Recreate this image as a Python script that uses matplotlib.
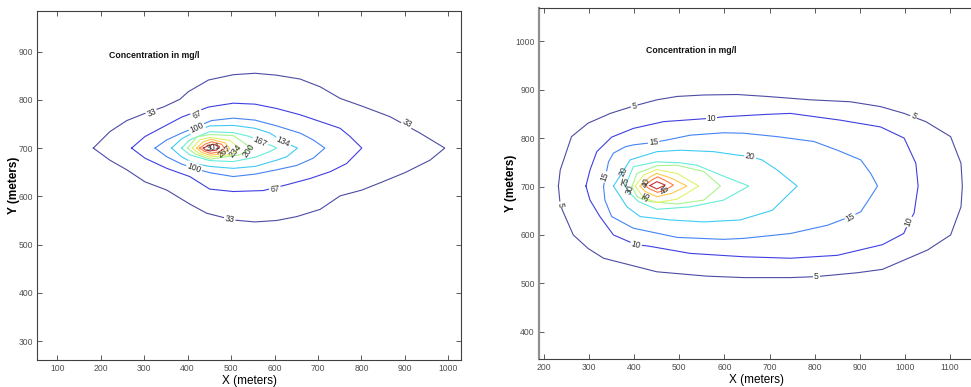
import matplotlib.pyplot as plt

# plume outlines, traced as closed loops of (x, y) in meters
# left plume: levels 33 ... 334 mg/l
L033 = [(183, 700), (221, 734), (260, 757), (302, 772), (344, 785), (382, 801), (402, 817), (448, 841),
        (505, 852), (555, 855), (605, 851), (659, 843), (705, 827), (751, 803), (801, 787), (866, 765),
        (935, 731), (992, 700), (958, 675), (900, 649), (843, 628), (801, 613), (751, 601), (705, 573),
        (651, 558), (605, 550), (555, 547), (505, 551), (444, 565), (405, 584), (352, 613), (302, 630),
        (260, 655), (221, 675)]
L067 = [(271, 700), (302, 724), (344, 744), (386, 764), (448, 785), (505, 793), (555, 791), (605, 782),
        (659, 769), (705, 755), (751, 741), (774, 724), (801, 700), (766, 668), (728, 651), (682, 637),
        (628, 624), (574, 612), (505, 610), (451, 615), (405, 641), (352, 658), (302, 679)]
L100 = [(325, 700), (352, 717), (386, 731), (455, 757), (505, 762), (555, 758), (605, 746), (659, 731),
        (689, 717), (716, 700), (689, 679), (651, 664), (605, 655), (555, 646), (505, 641), (451, 649),
        (415, 658), (386, 667), (352, 682)]
L134 = [(363, 700), (386, 719), (421, 736), (451, 746), (505, 747), (555, 741), (590, 731), (620, 713),
        (653, 700), (628, 682), (605, 675), (555, 662), (505, 658), (451, 662), (415, 668), (386, 682)]
L167 = [(386, 700), (405, 717), (451, 734), (505, 732), (543, 724), (567, 713), (593, 705), (605, 700),
        (590, 693), (555, 681), (505, 672), (451, 674), (405, 686)]
L200 = [(400, 700), (421, 723), (451, 728), (505, 726), (520, 717), (547, 700), (520, 686), (451, 677),
        (417, 688)]
L234 = [(411, 700), (428, 717), (451, 722), (497, 716), (520, 699), (497, 686), (451, 681), (426, 689)]
L267 = [(421, 700), (436, 713), (453, 718), (486, 711), (497, 699), (482, 689), (453, 685), (432, 691)]
L301 = [(428, 700), (440, 708), (455, 713), (478, 708), (486, 699), (471, 692), (453, 689), (437, 694)]
L334 = [(436, 700), (448, 705), (459, 708), (474, 703), (467, 696), (451, 694), (441, 696)]

# right plume: levels 5 ... 50 mg/l
R05 = [(232, 701), (236, 734), (261, 803), (298, 831), (347, 851), (398, 866), (450, 879), (495, 886),
       (554, 889), (628, 890), (694, 886), (791, 879), (879, 875), (946, 865), (998, 851), (1046, 834),
       (1101, 803), (1124, 748), (1127, 701), (1124, 658), (1101, 600), (1050, 569), (950, 529),
       (894, 522), (803, 514), (746, 512), (643, 512), (561, 515), (450, 524), (391, 538), (332, 552),
       (298, 572), (265, 600), (247, 638), (236, 662)]
R10 = [(293, 701), (302, 734), (317, 772), (350, 802), (398, 820), (465, 834), (571, 841), (598, 844),
       (694, 849), (746, 851), (857, 837), (946, 823), (998, 800), (1024, 748), (1029, 701), (1020, 645),
       (1009, 627), (997, 603), (950, 580), (850, 558), (746, 552), (643, 555), (524, 562), (432, 577),
       (404, 580), (354, 600), (324, 638), (302, 672)]
R15 = [(332, 700), (343, 751), (354, 769), (380, 782), (398, 786), (443, 791), (472, 796), (524, 806),
       (598, 811), (643, 810), (717, 803), (798, 793), (850, 775), (902, 755), (924, 727), (939, 701),
       (924, 679), (902, 648), (879, 638), (828, 620), (746, 603), (643, 593), (598, 591), (495, 595),
       (398, 614), (350, 638), (335, 672)]
R20 = [(354, 701), (375, 731), (391, 755), (450, 772), (502, 775), (576, 772), (628, 765), (657, 762),
       (683, 755), (717, 734), (761, 701), (706, 651), (635, 631), (554, 627), (480, 631), (413, 638),
       (384, 658)]
R25 = [(380, 701), (398, 741), (450, 751), (502, 749), (539, 744), (591, 724), (654, 701), (598, 672),
       (524, 658), (450, 653), (409, 669), (391, 686)]
R30 = [(395, 700), (406, 727), (450, 743), (495, 744), (554, 731), (591, 701), (554, 672), (495, 664),
       (435, 669), (406, 679)]
R35 = [(402, 701), (421, 724), (450, 735), (495, 727), (543, 701), (495, 674), (450, 667), (421, 677)]
R40 = [(413, 701), (435, 720), (450, 727), (483, 717), (517, 701), (483, 686), (450, 679), (424, 690)]
R45 = [(424, 702), (438, 713), (452, 720), (470, 712), (487, 703), (469, 693), (452, 688), (434, 695)]
R50 = [(435, 702), (450, 710), (469, 703), (450, 695)]

left_lines = [L033, L067, L100, L134, L167, L200, L234, L267, L301, L334]
right_lines = [R05, R10, R15, R20, R25, R30, R35, R40, R45, R50]

# jet-like colour per level, low to high
level_colors = ['#4c4ca4', '#3f3fe2', '#4484f4', '#40caf4', '#66ecd8',
                '#a8f490', '#e0f268', '#ffc84c', '#ff7c44', '#c83434']

# contour labels: text, x, y, rotation, gap in line
left_labels = [("33", 317, 774, 25, True), ("33", 906, 751, -30, True), ("33", 497, 553, -8, True),
               ("67", 422, 770, 30, True), ("67", 601, 615, 5, True),
               ("100", 421, 742, 25, True), ("100", 415, 658, -20, True),
               ("134", 620, 713, -25, True), ("167", 567, 713, -25, True),
               ("200", 541, 695, 55, False), ("234", 509, 695, 50, False),
               ("267", 484, 693, 40, False), ("301", 459, 702, 10, False)]
right_labels = [("5", 400, 866, 10, True), ("5", 1020, 846, -30, True), ("5", 803, 514, 0, True),
                ("5", 236, 662, -80, True),
                ("10", 571, 841, 0, True), ("10", 404, 580, -15, True), ("10", 1009, 627, 70, True),
                ("15", 443, 791, 5, True), ("15", 335, 720, 70, True), ("15", 879, 637, 30, True),
                ("20", 657, 762, -10, True), ("20", 375, 731, 65, False),
                ("25", 380, 710, 75, False), ("30", 391, 693, 70, False),
                ("35", 428, 680, 60, False), ("40", 426, 708, 70, False), ("45", 469, 693, 40, False)]

NARROW = ['Liberation Sans Narrow', 'Liberation Sans', 'DejaVu Sans']
SANS = ['Liberation Sans', 'DejaVu Sans']

fig = plt.figure(figsize=(9.71, 3.87), dpi=100)
ax1 = fig.add_axes([0.0384, 0.0698, 0.4367, 0.9018])
ax2 = fig.add_axes([0.5551, 0.0724, 0.4490, 0.9062])


def draw_panel(ax, lines, labels, xlim, ylim, xticks, yticks, note_xy):
    for pts, col in zip(lines, level_colors):
        xs = [p[0] for p in pts] + [pts[0][0]]
        ys = [p[1] for p in pts] + [pts[0][1]]
        ax.plot(xs, ys, color=col, lw=0.8, solid_joinstyle='miter')
    for txt, x, y, rot, gap in labels:
        kw = {}
        if gap:
            kw['bbox'] = dict(boxstyle='square,pad=0.12', fc='white', ec='none')
        ax.text(x, y, txt, rotation=rot, rotation_mode='anchor', ha='center', va='center',
                fontsize=6.2, color='#303030', family=NARROW, **kw)
    ax.text(note_xy[0], note_xy[1], 'Concentration in mg/l', fontsize=6.3, fontweight='bold',
            color='#111111', family=SANS, va='center')
    ax.set_xlim(*xlim)
    ax.set_ylim(*ylim)
    ax.set_xticks(xticks)
    ax.set_yticks(yticks)
    ax.tick_params(direction='in', top=True, right=True, length=3.5, width=0.6,
                   colors='#404040', labelsize=6.2, labelcolor='#505050', pad=3)
    for lab in ax.get_xticklabels() + ax.get_yticklabels():
        lab.set_family(NARROW)
    for sp in ax.spines.values():
        sp.set_color('#404040')
        sp.set_linewidth(0.8)
    ax.set_xlabel('X (meters)', fontsize=8.5, family=SANS, labelpad=1)
    ax.set_ylabel('Y (meters)', fontsize=8.5, fontweight='bold', family=SANS, labelpad=-1)


draw_panel(ax1, left_lines, left_labels, (54, 1030), (261, 984),
           range(100, 1001, 100), range(300, 901, 100), (219, 891))
draw_panel(ax2, right_lines, right_labels, (189, 1155), (344, 1068),
           range(200, 1101, 100), range(400, 1001, 100), (427, 980))
ax2.tick_params(right=False)
ax2.spines['left'].set_color('#909090')
ax2.spines['left'].set_linewidth(1.6)

fig.savefig('out.png', dpi=100)
